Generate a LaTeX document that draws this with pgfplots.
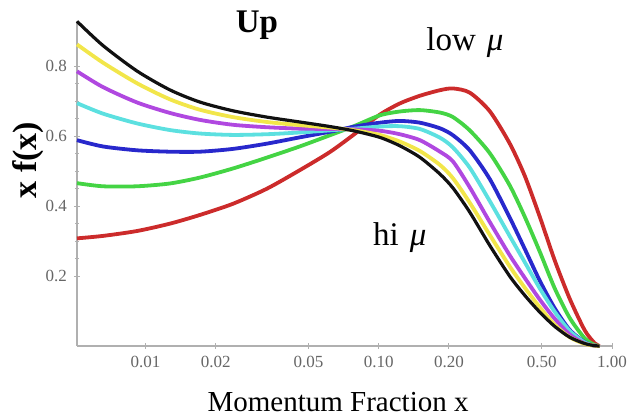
\documentclass[border=0pt]{standalone}
\usepackage{fontspec}
\setmainfont{Liberation Serif}
\usepackage{pgfplots}
\pgfplotsset{compat=1.18}
\definecolor{cred}{HTML}{CC2B2B}
\definecolor{cgreen}{HTML}{44D444}
\definecolor{cblue}{HTML}{2828CC}
\definecolor{ccyan}{HTML}{5CE0E0}
\definecolor{cmag}{HTML}{B048E0}
\definecolor{cyel}{HTML}{F2E64A}
\definecolor{cblack}{HTML}{111111}
\definecolor{axgray}{HTML}{B0B0B0}

\begin{document}
\begin{tikzpicture}
  \begin{axis}[
    scale only axis,
    width=267.5pt, height=162.5pt,
    xmode=log,
    xmin=0.00508, xmax=1.0,
    ymin=0, ymax=0.93,
    axis x line=bottom, axis y line=left,
    axis line style={-, axgray, line width=0.6pt},
    tick style={axgray, line width=0.5pt},
    major tick length=3pt, minor tick length=1.8pt,
    xtick={0.01,0.02,0.05,0.1,0.2,0.5,1},
    xticklabels={0.01,0.02,0.05,0.10,0.20,0.50,1.00},
    ytick={0.2,0.4,0.6,0.8},
    yticklabels={0.2,0.4,0.6,0.8},
    minor y tick num=3,
    tick label style={font=\fontsize{8.5}{10}\selectfont, text=black!60},
    xlabel={Momentum Fraction x},
    ylabel={\textbf{x f(x)}},
    xlabel style={font=\fontsize{14.5}{16}\selectfont, at={(axis description cs:0.488,-0.172)}, anchor=center},
    ylabel style={font=\fontsize{17}{19}\selectfont, at={(axis description cs:-0.0916,0.572)}, anchor=center},
    every axis plot/.append style={line width=1.9pt, smooth, tension=0.45},
    clip=false,
  ]
    % low mu (red) ... hi mu (black)
    \addplot[cred] coordinates {
      (0.00508,0.308)(0.00656,0.315)(0.00918,0.329)(0.0127,0.350)(0.0171,0.375)
      (0.0237,0.407)(0.0331,0.450)(0.0458,0.503)(0.0617,0.555)(0.0789,0.607)
      (0.101,0.662)(0.123,0.694)(0.150,0.716)(0.183,0.732)(0.208,0.737)
      (0.2455,0.725)(0.299,0.672)(0.364,0.580)(0.4225,0.487)(0.490,0.370)
      (0.568,0.245)(0.659,0.135)(0.764,0.045)(0.843,0.008)(0.885,0.0)};
    \addplot[cgreen] coordinates {
      (0.00508,0.466)(0.00656,0.457)(0.00918,0.457)(0.0127,0.465)(0.0171,0.482)
      (0.0237,0.508)(0.0331,0.539)(0.0458,0.571)(0.0617,0.603)(0.0789,0.630)
      (0.101,0.660)(0.123,0.671)(0.150,0.675)(0.183,0.668)(0.208,0.655)
      (0.2455,0.617)(0.299,0.552)(0.364,0.460)(0.4225,0.370)(0.490,0.270)
      (0.568,0.165)(0.659,0.080)(0.764,0.022)(0.843,0.003)(0.885,0.0)};
    \addplot[cblue] coordinates {
      (0.00508,0.589)(0.00656,0.571)(0.00918,0.560)(0.0127,0.556)(0.0171,0.556)
      (0.0237,0.564)(0.0331,0.579)(0.0458,0.597)(0.0617,0.613)(0.0789,0.628)
      (0.101,0.639)(0.123,0.644)(0.150,0.639)(0.183,0.623)(0.208,0.603)
      (0.2455,0.560)(0.299,0.478)(0.364,0.368)(0.4225,0.278)(0.490,0.187)
      (0.568,0.108)(0.659,0.046)(0.764,0.011)(0.843,0.001)(0.885,0.0)};
    \addplot[ccyan] coordinates {
      (0.00508,0.695)(0.00656,0.665)(0.00918,0.637)(0.0127,0.618)(0.0171,0.608)
      (0.0237,0.604)(0.0331,0.606)(0.0458,0.611)(0.0617,0.617)(0.0789,0.622)
      (0.101,0.628)(0.123,0.629)(0.150,0.621)(0.183,0.596)(0.208,0.568)
      (0.2455,0.510)(0.299,0.415)(0.364,0.315)(0.4225,0.240)(0.490,0.165)
      (0.568,0.098)(0.659,0.043)(0.764,0.010)(0.843,0.001)(0.885,0.0)};
    \addplot[cmag] coordinates {
      (0.00508,0.786)(0.00656,0.741)(0.00918,0.697)(0.0127,0.667)(0.0171,0.647)
      (0.0237,0.633)(0.0331,0.626)(0.0458,0.622)(0.0617,0.621)(0.0789,0.620)
      (0.101,0.616)(0.123,0.606)(0.150,0.589)(0.183,0.556)(0.208,0.528)
      (0.2455,0.454)(0.299,0.355)(0.364,0.260)(0.4225,0.195)(0.490,0.133)
      (0.568,0.078)(0.659,0.033)(0.764,0.007)(0.843,0.001)(0.885,0.0)};
    \addplot[cyel] coordinates {
      (0.00508,0.863)(0.00656,0.811)(0.00918,0.752)(0.0127,0.706)(0.0171,0.676)
      (0.0237,0.655)(0.0331,0.641)(0.0458,0.632)(0.0617,0.625)(0.0789,0.617)
      (0.101,0.604)(0.123,0.585)(0.150,0.558)(0.183,0.518)(0.208,0.480)
      (0.2455,0.410)(0.299,0.318)(0.364,0.228)(0.4225,0.167)(0.490,0.111)
      (0.568,0.061)(0.659,0.025)(0.764,0.006)(0.843,0.001)(0.885,0.0)};
    \addplot[cblack, line width=1.6pt] coordinates {
      (0.00508,0.929)(0.00656,0.860)(0.00918,0.787)(0.0127,0.733)(0.0171,0.698)
      (0.0237,0.673)(0.0331,0.655)(0.0458,0.641)(0.0617,0.628)(0.0789,0.615)
      (0.101,0.597)(0.123,0.573)(0.150,0.540)(0.183,0.492)(0.208,0.452)
      (0.2455,0.383)(0.299,0.288)(0.364,0.200)(0.4225,0.145)(0.490,0.097)
      (0.568,0.056)(0.659,0.025)(0.764,0.007)(0.843,0.001)(0.885,0.0)};
    \node[font=\fontsize{16.5}{18}\selectfont\bfseries] at (axis cs:0.030,0.917) {Up};
    \node[font=\fontsize{16.5}{18}\selectfont] at (axis cs:0.234,0.869) {low\,\,\textit{μ}};
    \node[font=\fontsize{16.5}{18}\selectfont] at (axis cs:0.123,0.311) {hi\,\,\textit{μ}};
  \end{axis}
  \pgfresetboundingbox
  \path[use as bounding box] (-38.5pt,-35pt) rectangle (275pt,173pt);
\end{tikzpicture}
\end{document}
